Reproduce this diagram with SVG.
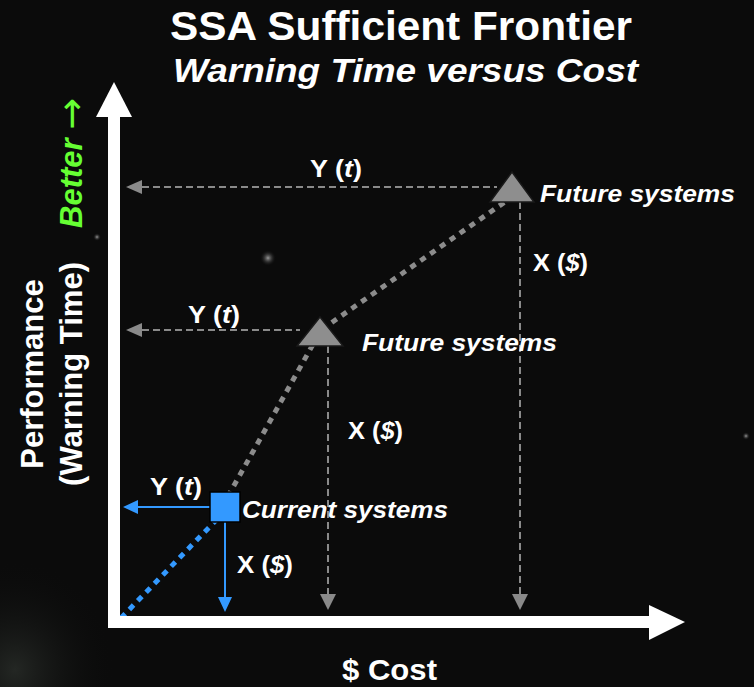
<svg xmlns="http://www.w3.org/2000/svg" width="754" height="687" viewBox="0 0 754 687">
<defs>
<style>
text{font-family:"Liberation Sans",Arial,sans-serif;font-weight:bold;fill:#ffffff}
.it{font-style:italic}
.lbl{font-size:23px}
.sys{font-size:24px;font-style:italic}
.dash{fill:none;stroke:#8a8a8a;stroke-width:2;stroke-dasharray:7 4}
.gh{fill:#8a8a8a}
.blue{stroke:#3399ff;stroke-width:2;fill:none}
.bh{fill:#3399ff}
</style>
<radialGradient id="glow" cx="0.5" cy="0.5" r="0.5">
<stop offset="0" stop-color="#2a2e2a" stop-opacity="0.8"/>
<stop offset="1" stop-color="#0b0b0b" stop-opacity="0"/>
</radialGradient>
<radialGradient id="star" cx="0.5" cy="0.5" r="0.5">
<stop offset="0" stop-color="#9a9a9a"/>
<stop offset="1" stop-color="#0b0b0b" stop-opacity="0"/>
</radialGradient>
</defs>
<g id="background">
<rect x="0" y="0" width="754" height="687" fill="#0b0b0b"/>
<ellipse cx="15" cy="670" rx="100" ry="110" fill="url(#glow)"/>
<circle cx="268" cy="258" r="8" fill="url(#star)"/>
<circle cx="97" cy="237" r="4" fill="url(#star)"/>
<circle cx="746" cy="436" r="4" fill="url(#star)"/>
</g>
<g id="title">
<text x="170" y="40" font-size="40" textLength="462" lengthAdjust="spacingAndGlyphs">SSA Sufficient Frontier</text>
<text x="173" y="82" font-size="33" class="it" textLength="465" lengthAdjust="spacingAndGlyphs">Warning Time versus Cost</text>
</g>
<g id="connectors">
<polyline points="222,507 321,330 512,197" fill="none" stroke="#8c8c8c" stroke-width="5" stroke-dasharray="6 6"/>
<line x1="121" y1="618" x2="226" y2="510" stroke="#3399ff" stroke-width="5" stroke-dasharray="6 6"/>
<line class="dash" x1="142" y1="187" x2="497" y2="187"/>
<polygon class="gh" points="126,187 142,180 142,194"/>
<line class="dash" x1="142" y1="330" x2="300" y2="330"/>
<polygon class="gh" points="126,330 142,323 142,337"/>
<line class="dash" x1="520" y1="202" x2="520" y2="594"/>
<polygon class="gh" points="520,610 512,594 528,594"/>
<line class="dash" x1="328" y1="346" x2="328" y2="594"/>
<polygon class="gh" points="328,610 320,594 336,594"/>
<line class="blue" x1="210" y1="507" x2="137" y2="507"/>
<polygon class="bh" points="123,507 138,500 138,514"/>
<line class="blue" x1="225" y1="522" x2="225" y2="598"/>
<polygon class="bh" points="225,612 218,597 232,597"/>
</g>
<g id="axes">
<rect x="108" y="116" width="12" height="512" fill="#ffffff"/>
<polygon points="96,117 114,82 132,117" fill="#ffffff"/>
<rect x="108" y="616" width="542" height="12" fill="#ffffff"/>
<polygon points="649,605 685,622 649,640" fill="#ffffff"/>
</g>
<g id="node-future-2">
<polygon points="512,172 490,202 534,202" fill="#8e8e8e" stroke="#1a1a1a" stroke-width="1.5"/>
<text x="540" y="202" class="sys" textLength="195" lengthAdjust="spacingAndGlyphs">Future systems</text>
</g>
<g id="node-future-1">
<polygon points="320,317 297,346 343,346" fill="#8e8e8e" stroke="#1a1a1a" stroke-width="1.5"/>
<text x="362" y="351" class="sys" textLength="195" lengthAdjust="spacingAndGlyphs">Future systems</text>
</g>
<g id="node-current">
<rect x="210" y="492" width="30" height="30" fill="#3399ff" stroke="#000000" stroke-width="1.5"/>
<text x="242" y="518" class="sys" textLength="206" lengthAdjust="spacingAndGlyphs">Current systems</text>
</g>
<g id="labels">
<text x="310" y="177" class="lbl" textLength="52" lengthAdjust="spacingAndGlyphs">Y (<tspan class="it">t</tspan>)</text>
<text x="188" y="323" class="lbl" textLength="52" lengthAdjust="spacingAndGlyphs">Y (<tspan class="it">t</tspan>)</text>
<text x="150" y="495" class="lbl" textLength="52" lengthAdjust="spacingAndGlyphs">Y (<tspan class="it">t</tspan>)</text>
<text x="533" y="271" class="lbl" textLength="55" lengthAdjust="spacingAndGlyphs">X (<tspan class="it">$</tspan>)</text>
<text x="348" y="439" class="lbl" textLength="55" lengthAdjust="spacingAndGlyphs">X (<tspan class="it">$</tspan>)</text>
<text x="237" y="573" class="lbl" textLength="56" lengthAdjust="spacingAndGlyphs">X (<tspan class="it">$</tspan>)</text>
<text x="342" y="680" font-size="30" textLength="95" lengthAdjust="spacingAndGlyphs">$ Cost</text>
<text transform="translate(43,374) rotate(-90)" text-anchor="middle" font-size="31">Performance</text>
<text transform="translate(82,374) rotate(-90)" text-anchor="middle" font-size="31">(Warning Time)</text>
<text transform="translate(82,228) rotate(-90)" font-size="31" class="it" style="fill:#66ff33">Better <tspan dy="2" style="font-family:'DejaVu Sans',sans-serif;font-style:normal;font-weight:normal;font-size:38px">→</tspan></text>
</g>
</svg>
